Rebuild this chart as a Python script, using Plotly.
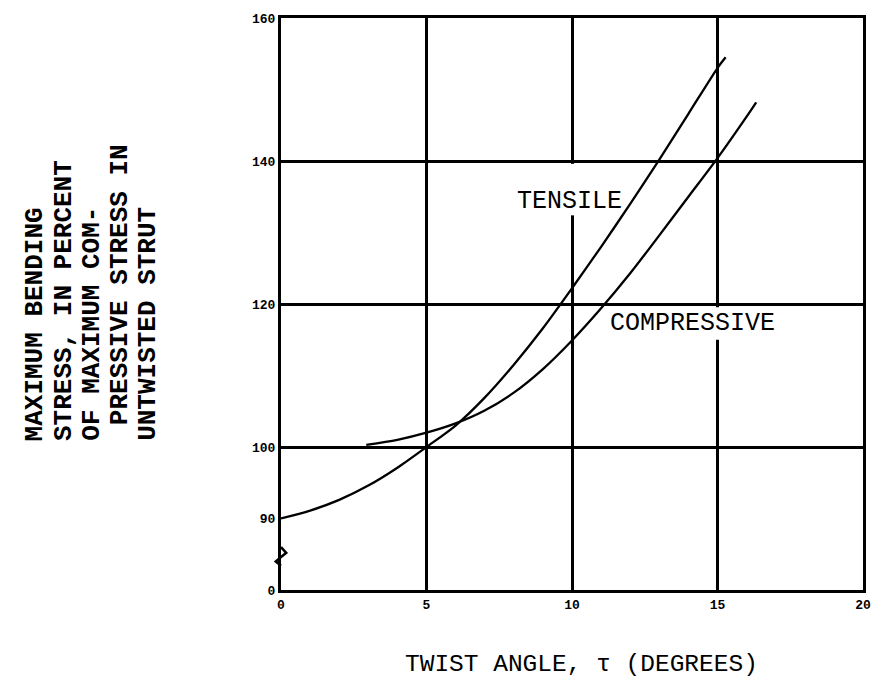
import plotly.graph_objects as go

# ---- data ----
tensile_x = [0, 1, 2, 3, 4, 5, 6, 7, 8, 9, 10, 11, 12, 13, 14, 15, 15.28]
tensile_y = [90, 91.1, 92.6, 94.6, 97.1, 100, 103.0, 106.9, 111.5, 116.6, 122.2, 128, 134, 140.2, 146.6, 153, 154.5]

compressive_x = [2.93, 4, 5, 6, 7, 8, 9, 10, 11, 12, 13, 14, 15, 16, 16.33]
compressive_y = [100.3, 101.0, 102.0, 103.3, 105.1, 107.6, 110.9, 114.9, 119.4, 124.3, 129.6, 135.0, 140.4, 146.2, 148.2]

x_tick_vals = [0, 5, 10, 15, 20]
x_tick_text = ["0", "5", "10", "15", "20"]
# broken axis: the bottom tick (drawn at 80) is labelled "0"
y_tick_vals = [80, 90, 100, 120, 140, 160]
y_tick_text = ["0", "90", "100", "120", "140", "160"]
y_grid_vals = [100, 120, 140]

y_title_lines = [
    "MAXIMUM BENDING",
    "STRESS, IN PERCENT",
    "OF MAXIMUM COM-",
    "\u00a0PRESSIVE STRESS IN",
    "UNTWISTED STRUT",
]
x_title = "TWIST ANGLE, \u03c4 (DEGREES)"

FONT = "Liberation Mono, DejaVu Sans Mono, monospace"

fig = go.Figure()
fig.add_trace(go.Scatter(x=tensile_x, y=tensile_y, mode="lines",
                         line=dict(color="black", width=2.3, shape="spline", smoothing=0.8),
                         name="TENSILE", hoverinfo="skip"))
fig.add_trace(go.Scatter(x=compressive_x, y=compressive_y, mode="lines",
                         line=dict(color="black", width=2.3, shape="spline", smoothing=0.8),
                         name="COMPRESSIVE", hoverinfo="skip"))

L, R, T, B = 281, 12, 14, 93
W, H = 883, 683
PW, PH = W - L - R, H - T - B


def px(xp):
    return (xp - L) / PW


def py(yp):
    return (H - B - yp) / PH


fig.update_layout(
    width=W, height=H,
    margin=dict(l=L, r=R, t=T, b=B),
    plot_bgcolor="white", paper_bgcolor="white",
    showlegend=False,
    font=dict(family=FONT, color="black"),
    xaxis=dict(range=[0, 20], tickvals=x_tick_vals, ticktext=x_tick_text,
               showgrid=True, gridcolor="black", gridwidth=3,
               showline=True, linecolor="black", linewidth=3, mirror=True,
               zeroline=False, ticks="",
               tickfont=dict(family=FONT, size=13, weight="bold", color="black")),
    yaxis=dict(range=[80, 160], tickvals=y_tick_vals, ticktext=y_tick_text,
               showgrid=False,
               minor=dict(tickvals=y_grid_vals, showgrid=True, gridcolor="black",
                          gridwidth=3, ticks=""),
               showline=True, linecolor="black", linewidth=3, mirror=True,
               zeroline=False, ticks="",
               tickfont=dict(family=FONT, size=13, weight="bold", color="black")),
)

# white patches where the curve labels interrupt the grid lines
fig.add_shape(type="rect", xref="x", yref="y", x0=9.85, x1=10.15, y0=132.4, y1=139.6,
              fillcolor="white", line=dict(width=0), layer="between")
fig.add_shape(type="rect", xref="x", yref="y", x0=14.85, x1=15.15, y0=115.0, y1=119.55,
              fillcolor="white", line=dict(width=0), layer="between")

# axis break symbol
fig.add_shape(type="path", xref="paper", yref="y",
              path="M 0,86.0 L 0.009,85.2 L -0.009,84.0 L 0,83.4",
              line=dict(color="black", width=2.5))

# curve labels
fig.add_annotation(x=9.9, y=134.4, xref="x", yref="y", text="TENSILE", showarrow=False,
                   font=dict(family=FONT, size=25, color="black"))
fig.add_annotation(x=14.14, y=117.3, xref="x", yref="y", text="COMPRESSIVE", showarrow=False,
                   font=dict(family=FONT, size=25, color="black"))

# y title (five typed lines, rotated)
col_x = [32, 60.5, 89, 117.5, 146]
for cx, line in zip(col_x, y_title_lines):
    fig.add_annotation(x=px(cx), y=py(442), xref="paper", yref="paper", text=line,
                       showarrow=False, textangle=-90, xanchor="center", yanchor="bottom",
                       font=dict(family=FONT, size=26, weight="bold", color="black"))

# x title
fig.add_annotation(x=px(586), y=py(665), xref="paper", yref="paper", text=x_title,
                   showarrow=False, xanchor="center", yanchor="middle",
                   font=dict(family=FONT, size=24.5, color="black"))

fig.write_html("out.html",
               config={"displayModeBar": False, "staticPlot": True},
               post_script="document.body.style.margin='0';document.body.style.overflow='hidden';")
